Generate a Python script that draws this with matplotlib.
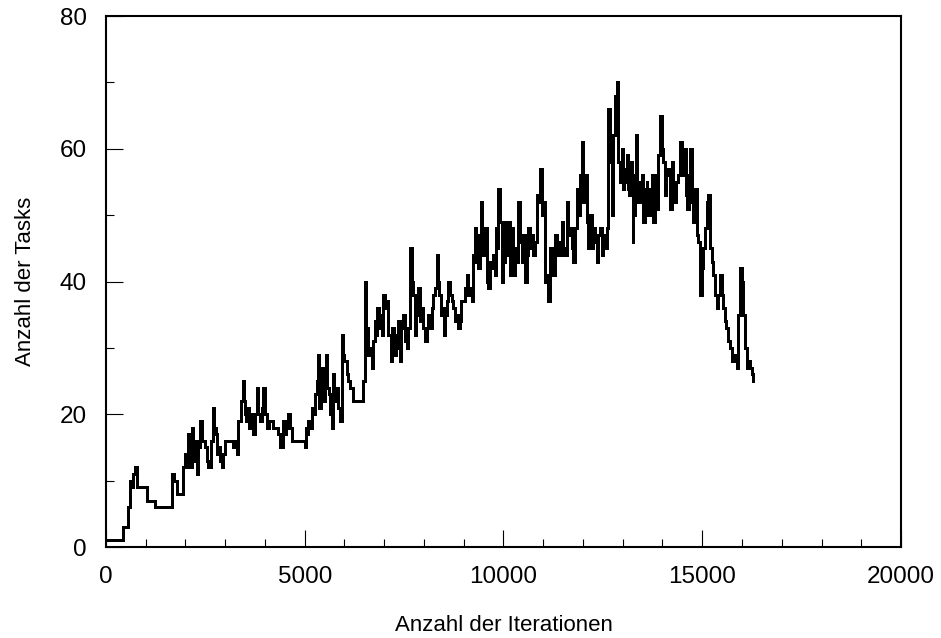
import matplotlib
matplotlib.use('Agg')
import matplotlib.pyplot as plt
from matplotlib.ticker import MultipleLocator

# Anzahl der Tasks ueber die Iterationen
iterationen = [
    0, 430, 440, 560, 600, 640, 680, 730, 770, 980,
    1020, 1230, 1650, 1660, 1700, 1740, 1780, 1930, 1950, 2000,
    2040, 2070, 2110, 2155, 2190, 2220, 2250, 2280, 2320, 2365,
    2420, 2490, 2530, 2574, 2640, 2700, 2730, 2760, 2800, 2826,
    2870, 2910, 2950, 2994, 3100, 3203, 3250, 3287, 3329, 3400,
    3438, 3470, 3497, 3530, 3560, 3590, 3623, 3670, 3707, 3750,
    3790, 3830, 3874, 3920, 3958, 4000, 4042, 4100, 4168, 4210,
    4252, 4320, 4377, 4444, 4500, 4540, 4587, 4630, 4671, 4838,
    4960, 5006, 5030, 5060, 5090, 5130, 5174, 5210, 5258, 5300,
    5342, 5370, 5400, 5430, 5470, 5510, 5535, 5560, 5600, 5640,
    5677, 5700, 5740, 5780, 5830, 5887, 5929, 5960, 6000, 6054,
    6096, 6140, 6222, 6306, 6390, 6474, 6516, 6550, 6600, 6640,
    6684, 6730, 6767, 6800, 6826, 6870, 6910, 6950, 6977, 7020,
    7061, 7100, 7162, 7200, 7240, 7290, 7320, 7354, 7390, 7430,
    7480, 7520, 7564, 7600, 7648, 7690, 7732, 7774, 7810, 7858,
    7900, 7941, 7980, 8025, 8070, 8109, 8150, 8190, 8235, 8280,
    8319, 8350, 8380, 8420, 8460, 8503, 8540, 8570, 8612, 8654,
    8696, 8738, 8780, 8822, 8860, 8900, 8940, 8989, 9030, 9073,
    9110, 9160, 9199, 9241, 9283, 9310, 9340, 9370, 9400, 9434,
    9470, 9500, 9534, 9576, 9618, 9660, 9702, 9744, 9780, 9803,
    9840, 9870, 9912, 9954, 9990, 10020, 10050, 10080, 10120, 10164,
    10200, 10248, 10290, 10330, 10373, 10410, 10457, 10500, 10541, 10580,
    10625, 10670, 10709, 10750, 10793, 10835, 10870, 10918, 10960, 11002,
    11044, 11090, 11128, 11170, 11210, 11254, 11296, 11340, 11380, 11420,
    11464, 11500, 11547, 11589, 11630, 11670, 11720, 11757, 11800, 11841,
    11880, 11925, 11967, 12009, 12050, 12093, 12130, 12176, 12218, 12260,
    12302, 12344, 12385, 12428, 12470, 12510, 12554, 12596, 12637, 12680,
    12721, 12763, 12805, 12847, 12889, 12931, 12973, 13000, 13031, 13060,
    13098, 13130, 13165, 13195, 13224, 13250, 13266, 13300, 13333, 13360,
    13392, 13430, 13476, 13500, 13518, 13560, 13601, 13620, 13643, 13680,
    13727, 13769, 13811, 13853, 13895, 13937, 13979, 14021, 14063, 14100,
    14146, 14188, 14230, 14270, 14314, 14350, 14398, 14440, 14480, 14524,
    14566, 14600, 14625, 14660, 14692, 14730, 14759, 14790, 14817, 14859,
    14901, 14943, 14990, 15027, 15070, 15111, 15153, 15195, 15240, 15279,
    15320, 15362, 15400, 15446, 15488, 15530, 15572, 15610, 15656, 15700,
    15740, 15782, 15830, 15866, 15908, 15950, 15990, 16034, 16076, 16118,
    16160, 16202, 16250, 16286,
]
tasks = [
    1, 1, 3, 6, 10, 9, 11, 12, 9, 9,
    7, 6, 6, 11, 10, 10, 8, 8, 12, 14,
    12, 17, 12, 18, 14, 13, 16, 11, 15, 19,
    16, 15, 13, 12, 16, 21, 18, 17, 14, 15,
    13, 12, 14, 16, 16, 15, 16, 14, 19, 22,
    25, 22, 20, 19, 21, 18, 20, 19, 17, 20,
    24, 20, 19, 21, 24, 20, 18, 19, 19, 18,
    18, 17, 15, 19, 17, 18, 20, 18, 16, 16,
    16, 15, 18, 17, 19, 18, 21, 20, 23, 25,
    29, 21, 24, 27, 22, 25, 29, 24, 23, 20,
    18, 26, 22, 24, 21, 19, 32, 29, 28, 26,
    25, 24, 22, 22, 22, 25, 40, 33, 29, 30,
    27, 31, 34, 32, 36, 33, 35, 32, 38, 36,
    37, 32, 28, 33, 29, 32, 30, 34, 28, 33,
    35, 31, 30, 33, 45, 40, 38, 32, 35, 39,
    34, 36, 33, 31, 33, 35, 33, 36, 38, 39,
    44, 40, 38, 35, 36, 32, 35, 37, 40, 38,
    37, 36, 34, 35, 33, 34, 37, 37, 39, 41,
    38, 39, 37, 44, 48, 43, 47, 42, 46, 52,
    44, 47, 48, 40, 39, 43, 42, 44, 41, 48,
    45, 54, 49, 40, 47, 43, 49, 44, 49, 41,
    48, 41, 45, 43, 52, 46, 43, 47, 40, 44,
    48, 45, 47, 44, 46, 53, 52, 57, 50, 52,
    40, 41, 37, 45, 42, 41, 47, 44, 46, 44,
    49, 45, 44, 52, 47, 48, 45, 43, 48, 54,
    50, 56, 61, 52, 56, 49, 45, 50, 45, 48,
    46, 43, 47, 48, 44, 47, 45, 48, 66, 58,
    50, 62, 68, 70, 58, 55, 60, 54, 57, 55,
    59, 54, 53, 58, 56, 46, 50, 56, 62, 55,
    52, 55, 56, 52, 49, 54, 55, 50, 50, 54,
    56, 49, 56, 51, 59, 65, 60, 58, 53, 56,
    57, 51, 58, 54, 52, 55, 56, 61, 58, 56,
    60, 53, 51, 56, 60, 52, 49, 53, 54, 47,
    46, 38, 42, 45, 48, 52, 53, 45, 43, 41,
    38, 36, 38, 41, 38, 36, 34, 33, 31, 30,
    28, 29, 28, 27, 35, 42, 40, 35, 30, 27,
    28, 27, 26, 25,
]
assert len(iterationen) == len(tasks)

plt.rcParams['font.family'] = ['Liberation Sans', 'DejaVu Sans']

fig = plt.figure(figsize=(9.41, 6.38), dpi=100)
ax = fig.add_axes([0.1126, 0.1426, 0.8449, 0.8323])

# treppenfoermig, ohne Kantenglaettung wie im Original
ax.step(iterationen, tasks, where='post', color='black', linewidth=2.0,
        antialiased=False)

ax.set_xlim(0, 20000)
ax.set_ylim(0, 80)
ax.xaxis.set_major_locator(MultipleLocator(5000))
ax.xaxis.set_minor_locator(MultipleLocator(1000))
ax.yaxis.set_major_locator(MultipleLocator(20))
ax.yaxis.set_minor_locator(MultipleLocator(10))

ax.tick_params(which='both', direction='in', top=False, right=False, width=0.8)
ax.tick_params(which='major', length=12, labelsize=17.5, pad=14)
ax.tick_params(which='minor', length=6)
for s in ax.spines.values():
    s.set_linewidth(1.5)

ax.set_xlabel('Anzahl der Iterationen', fontsize=16, labelpad=19)
ax.set_ylabel('Anzahl der Tasks', fontsize=16, labelpad=17)

fig.savefig('out.png', dpi=100)
